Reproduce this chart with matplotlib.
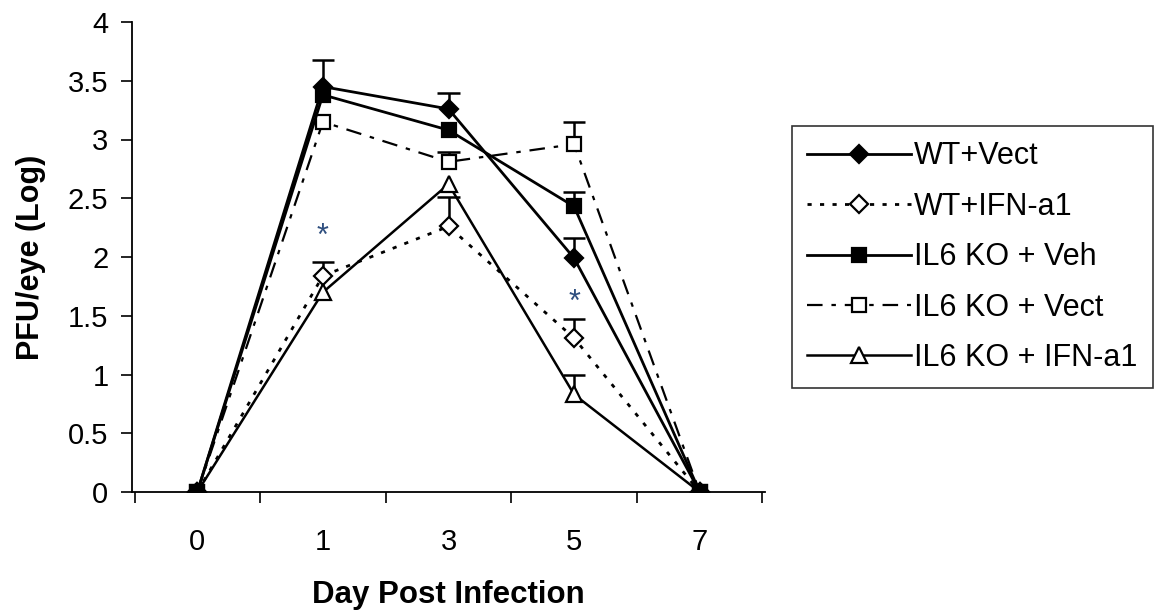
import numpy as np
import matplotlib.pyplot as plt

plt.rcParams['font.family'] = ['Liberation Sans', 'DejaVu Sans']

days = ['0', '1', '3', '5', '7']
wt_vect = [0, 3.45, 3.26, 1.99, 0]
wt_ifn = [0, 1.84, 2.26, 1.31, 0]
ko_veh = [0, 3.38, 3.08, 2.43, 0]
ko_vect = [0, 3.15, 2.81, 2.96, 0]
ko_ifn = [0, 1.70, 2.62, 0.83, 0]

wt_vect_err = [0, 0.23, 0.14, 0.17, 0]
wt_ifn_err = [0, 0.12, 0.25, 0.16, 0]
ko_veh_err = [0, 0.0, 0.0, 0.12, 0]
ko_vect_err = [0, 0.0, 0.08, 0.19, 0]
ko_ifn_err = [0, 0.0, 0.0, 0.17, 0]

star_pos = [1, 3]
star_y = [2.17, 1.61]

fig = plt.figure(figsize=(11.54, 6.16), dpi=100)
ax = fig.add_axes([132/1154, 124/616, 633/1154, 470/616])
x = np.arange(len(days))

series = [
    ('WT+Vect', wt_vect, wt_vect_err, dict(ls='-', marker='D', mfc='black', ms=9, lw=2), 3),
    ('WT+IFN-a1', wt_ifn, wt_ifn_err, dict(ls=(0, (1.5, 3)), marker='D', mfc='white', ms=9, lw=2), 3),
    ('IL6 KO + Veh', ko_veh, ko_veh_err, dict(ls='-', marker='s', mfc='black', ms=10, lw=2), 5),
    ('IL6 KO + Vect', ko_vect, ko_vect_err, dict(ls=(0, (7, 4, 2, 4)), marker='s', mfc='white', ms=10, lw=1.6), 3),
    ('IL6 KO + IFN-a1', ko_ifn, ko_ifn_err, dict(ls='-', marker='^', mfc='white', ms=11, lw=1.8), 3),
]

for name, vals, err, st, z in series:
    vals = np.array(vals)
    err = np.array(err)
    m = err > 0
    ax.vlines(x[m], vals[m], vals[m] + err[m], color='black', lw=1.8, zorder=2)
    ax.hlines(vals[m] + err[m], x[m] - 0.09, x[m] + 0.09, color='black', lw=1.8, zorder=2)
    ax.plot(x, vals, color='black', mec='black', mew=1.6, label=name, zorder=z, **st)

for sx, sy in zip(star_pos, star_y):
    ax.text(sx, sy, '*', color='#2f4f7f', fontsize=22, ha='center', va='center')

ax.set_xlim(-0.52, 4.52)
ax.set_ylim(0, 4)
ax.set_yticks(np.arange(0, 4.01, 0.5))
ax.set_yticklabels(['0', '0.5', '1', '1.5', '2', '2.5', '3', '3.5', '4'])
ax.set_xticks(x)
ax.set_xticklabels(days)
ax.set_xticks(np.arange(-0.5, 4.51, 1), minor=True)
ax.tick_params(axis='x', which='major', length=0, pad=26, labelsize=21)
ax.tick_params(axis='x', which='minor', length=8, width=1.2, direction='out')
ax.tick_params(axis='y', length=8, width=1.2, direction='out', labelsize=21, pad=9)
ax.spines['top'].set_visible(False)
ax.spines['right'].set_visible(False)
ax.spines['left'].set_linewidth(1.3)
ax.spines['bottom'].set_linewidth(1.3)
ax.set_xlabel('Day Post Infection', fontsize=22.5, fontweight='bold', labelpad=17)
ax.set_ylabel('PFU/eye (Log)', fontsize=22, fontweight='bold', labelpad=16)

leg = fig.legend(loc='upper left', bbox_to_anchor=(792/1154, 1 - 126/616), fontsize=22,
                 frameon=True, fancybox=False, edgecolor='black', handlelength=3.4,
                 handletextpad=0.1, labelspacing=0.67, borderpad=0.5, borderaxespad=0)
leg.get_frame().set_linewidth(1.2)

fig.savefig('out.png', dpi=100)
